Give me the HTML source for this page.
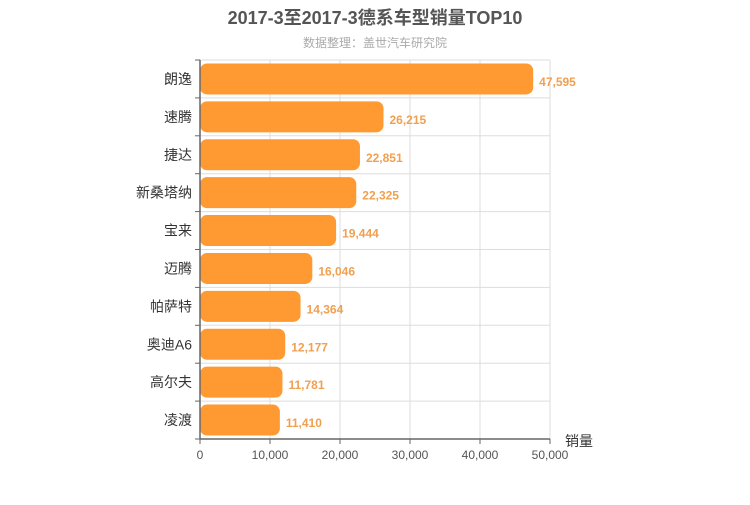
<!DOCTYPE html>
<html><head><meta charset="utf-8"><style>
body{margin:0;background:#fff;}
svg text{font-family:"Liberation Sans","Noto Sans CJK SC",sans-serif;}
</style></head><body>
<svg width="750" height="500">
<text x="375" y="24" text-anchor="middle" font-size="18" font-weight="bold" fill="#555">2017-3至2017-3德系车型销量TOP10</text>
<text x="375" y="47" text-anchor="middle" font-size="12" fill="#aaa">数据整理：盖世汽车研究院</text>
<g id="grid"></g><g id="bars"></g><g id="axes"></g>
</svg>
<script>
const categories=["朗逸","速腾","捷达","新桑塔纳","宝来","迈腾","帕萨特","奥迪A6","高尔夫","凌渡"];
const values=[47595,26215,22851,22325,19444,16046,14364,12177,11781,11410];
const ticks=[0,10000,20000,30000,40000,50000];
const NS="http://www.w3.org/2000/svg";
const x0=200,x1=550,yTop=60,yBot=439,max=50000;
const xs=v=>x0+(v/max)*(x1-x0);
const rowH=(yBot-yTop)/categories.length;
const ys=i=>yTop+i*rowH;
function mk(t,a,p){const e=document.createElementNS(NS,t);for(const k in a)e.setAttribute(k,a[k]);p.appendChild(e);return e;}
const g=document.getElementById('grid'),b=document.getElementById('bars'),ax=document.getElementById('axes');
ticks.forEach(t=>{const l=mk('line',{x1:xs(t),x2:xs(t),y1:yTop,y2:yBot,stroke:'#ddd'},g);


const tx=mk('text',{x:xs(t),y:yBot+20,'text-anchor':'middle','font-size':12,fill:'#555'},ax);tx.textContent=t.toLocaleString('en-US');


const tk=mk('line',{x1:xs(t),x2:xs(t),y1:yBot,y2:yBot+5,stroke:'#666'},ax);

});
for(let i=0;i<=categories.length;i++){const l=mk('line',{x1:x0,x2:x1,y1:ys(i),y2:ys(i),stroke:'#ddd'},g);


const tk=mk('line',{x1:x0-5,x2:x0,y1:ys(i),y2:ys(i),stroke:'#666'},ax);

}
categories.forEach((c,i)=>{const cy=ys(i)+rowH/2;
const r=mk('rect',{x:x0,y:cy-15.5,width:xs(values[i])-x0,height:31,rx:7,fill:'#ff9a33'},b);


const lb=mk('text',{x:x0-8,y:cy+5,'text-anchor':'end','font-size':14,fill:'#333'},ax);lb.textContent=c;


const vl=mk('text',{x:xs(values[i])+6,y:cy+7,'font-size':12,'font-weight':'bold',fill:'#f0a050'},b);vl.textContent=values[i].toLocaleString('en-US');

});
const ya=mk('line',{x1:x0,x2:x0,y1:yTop,y2:yBot,stroke:'#666','stroke-width':1.5},ax);


const xa=mk('line',{x1:x0,x2:x1,y1:yBot,y2:yBot,stroke:'#666','stroke-width':1.5},ax);


const xt=mk('text',{x:565,y:446,'font-size':14,fill:'#333'},ax);xt.textContent='销量';


</script>
</body></html>
